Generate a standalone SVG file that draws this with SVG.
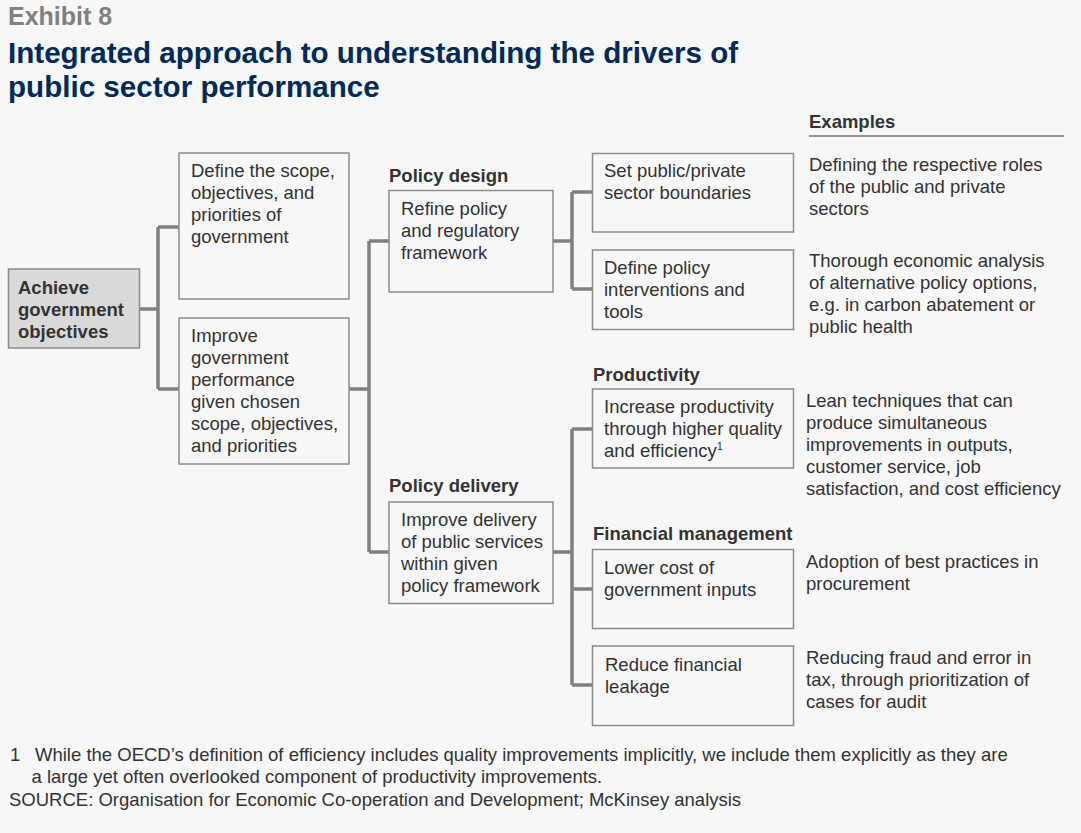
<svg xmlns="http://www.w3.org/2000/svg" width="1081" height="833" viewBox="0 0 1081 833">
<style>
text{font-family:"Liberation Sans",Arial,sans-serif;fill:#333333;font-size:18.5px}
.b{font-weight:bold}
.box{fill:#f7f7f7;stroke:#8c8c8c;stroke-width:1.5}
.root{fill:#d9d9d9;stroke:#8c8c8c;stroke-width:1.5}
.conn{fill:none;stroke:#808080;stroke-width:3.5}
.fn{font-size:18.5px}
</style>
<rect x="0" y="0" width="1081" height="833" fill="#f7f7f7"/>
<g id="header">
<text x="8" y="25" class="b" style="font-size:25px;fill:#808080">Exhibit 8</text>
<text x="8" y="62.5" class="b" style="font-size:29.6px;fill:#002a5c">Integrated approach to understanding the drivers of</text>
<text x="8" y="96.5" class="b" style="font-size:29.6px;fill:#002a5c">public sector performance</text>
</g>
<g id="connectors">
<path class="conn" d="M139,309H158M158,227V389M158,227H179M158,389H179"/>
<path class="conn" d="M349,389H369M369,241V552M369,241H389M369,552H389"/>
<path class="conn" d="M553,241H572M572,192V289M572,192H592M572,289H592"/>
<path class="conn" d="M553,552H572M572,429V685M572,429H592M572,589H592M572,685H592"/>
</g>
<g id="n-achieve">
<rect class="root" x="8.5" y="269" width="131" height="79"/>
<text class="b" x="18" y="293.5">Achieve</text>
<text class="b" x="18" y="315.5">government</text>
<text class="b" x="18" y="337.5">objectives</text>
</g>
<g id="n-define">
<rect class="box" x="179" y="153" width="170" height="146"/>
<text x="191" y="177">Define the scope,</text>
<text x="191" y="199">objectives, and</text>
<text x="191" y="221">priorities of</text>
<text x="191" y="243">government</text>
</g>
<g id="n-improve">
<rect class="box" x="179" y="318" width="170" height="146"/>
<text x="191" y="342">Improve</text>
<text x="191" y="364">government</text>
<text x="191" y="386">performance</text>
<text x="191" y="408">given chosen</text>
<text x="191" y="430">scope, objectives,</text>
<text x="191" y="452">and priorities</text>
</g>
<g id="n-refine">
<text class="b" x="389" y="182">Policy design</text>
<rect class="box" x="389" y="190.5" width="164" height="101.5"/>
<text x="401" y="215">Refine policy</text>
<text x="401" y="237">and regulatory</text>
<text x="401" y="259">framework</text>
</g>
<g id="n-delivery">
<text class="b" x="389" y="492">Policy delivery</text>
<rect class="box" x="389" y="502" width="164" height="101.5"/>
<text x="401" y="526">Improve delivery</text>
<text x="401" y="548">of public services</text>
<text x="401" y="570">within given</text>
<text x="401" y="592">policy framework</text>
</g>
<g id="n-set">
<rect class="box" x="592.5" y="153.5" width="201" height="78.5"/>
<text x="604" y="177">Set public/private</text>
<text x="604" y="199">sector boundaries</text>
</g>
<g id="n-interventions">
<rect class="box" x="592.5" y="250" width="201" height="79.5"/>
<text x="604" y="274">Define policy</text>
<text x="604" y="296">interventions and</text>
<text x="604" y="318">tools</text>
</g>
<g id="n-productivity">
<text class="b" x="593" y="381">Productivity</text>
<rect class="box" x="592.5" y="389" width="201" height="79"/>
<text x="604" y="413">Increase productivity</text>
<text x="604" y="435">through higher quality</text>
<text x="604" y="457">and efficiency<tspan font-size="11" dy="-7">1</tspan></text>
</g>
<g id="n-lower">
<text class="b" x="593" y="540">Financial management</text>
<rect class="box" x="592.5" y="549.5" width="201" height="79"/>
<text x="604" y="573.5">Lower cost of</text>
<text x="604" y="595.5">government inputs</text>
</g>
<g id="n-reduce">
<rect class="box" x="592.5" y="646" width="201" height="79.5"/>
<text x="605" y="671">Reduce financial</text>
<text x="605" y="693">leakage</text>
</g>
<g id="examples">
<text class="b" x="809" y="128">Examples</text>
<line x1="809" y1="136" x2="1064" y2="136" stroke="#333333" stroke-width="1.2"/>
<text x="809" y="171">Defining the respective roles</text>
<text x="809" y="193">of the public and private</text>
<text x="809" y="215">sectors</text>
<text x="809" y="267">Thorough economic analysis</text>
<text x="809" y="289">of alternative policy options,</text>
<text x="809" y="311">e.g. in carbon abatement or</text>
<text x="809" y="333">public health</text>
<text x="806" y="407">Lean techniques that can</text>
<text x="806" y="429">produce simultaneous</text>
<text x="806" y="451">improvements in outputs,</text>
<text x="806" y="473">customer service, job</text>
<text x="806" y="495">satisfaction, and cost efficiency</text>
<text x="806" y="567.5">Adoption of best practices in</text>
<text x="806" y="589.5">procurement</text>
<text x="806" y="664">Reducing fraud and error in</text>
<text x="806" y="686">tax, through prioritization of</text>
<text x="806" y="708">cases for audit</text>
</g>
<g id="footnotes">
<text class="fn" x="10" y="761">1</text>
<text class="fn" x="35" y="761">While the OECD’s definition of efficiency includes quality improvements implicitly, we include them explicitly as they are</text>
<text class="fn" x="31.5" y="783">a large yet often overlooked component of productivity improvements.</text>
<text class="fn" x="9" y="806">SOURCE: Organisation for Economic Co-operation and Development; McKinsey analysis</text>
</g>
</svg>
